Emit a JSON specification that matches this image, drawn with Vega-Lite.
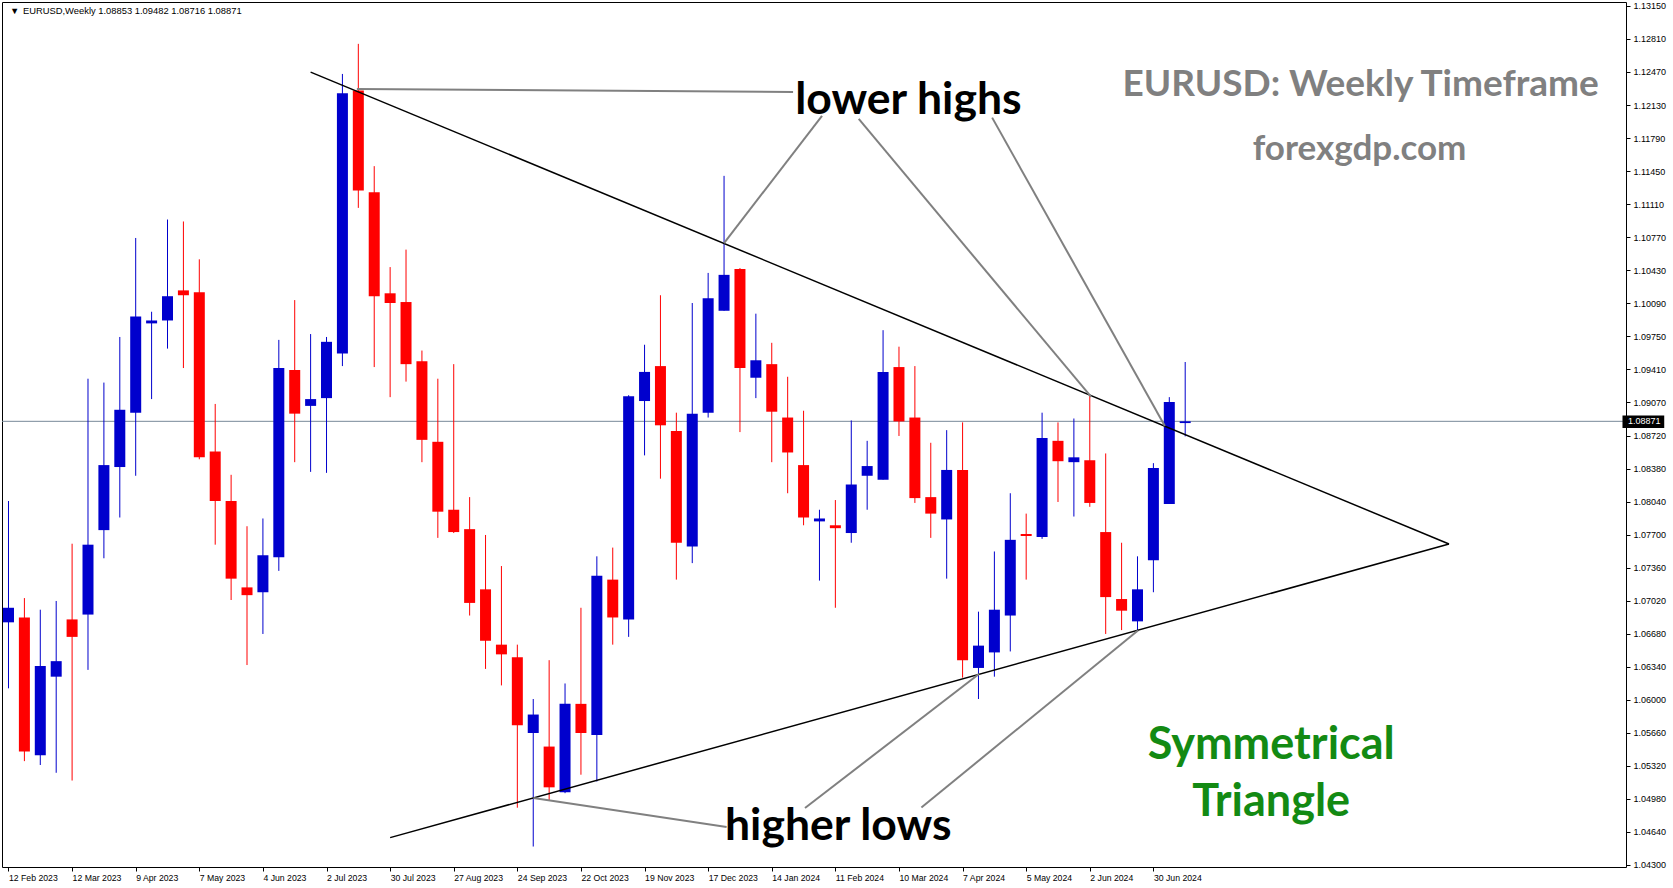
{
  "$schema": "https://vega.github.io/schema/vega-lite/v6.json",
  "width": 1624,
  "height": 865,
  "autosize": {"type": "none"},
  "padding": {"left": 2, "top": 2, "right": 47, "bottom": 21},
  "background": "white",
  "config": {
    "view": {"stroke": "black", "strokeWidth": 1},
    "axis": {
      "domain": false,
      "grid": false,
      "ticks": true,
      "tickColor": "black",
      "tickSize": 4,
      "labelColor": "black",
      "labelFont": "Liberation Sans",
      "labelFontSize": 9
    }
  },
  "resolve": {"axis": {"x": "independent", "y": "independent"}},
  "datasets": {
    "candles": [
      {"t": "2023-02-12", "o": 1.0680, "h": 1.0805, "l": 1.0612, "c": 1.0695},
      {"t": "2023-02-19", "o": 1.0685, "h": 1.0705, "l": 1.0537, "c": 1.0547},
      {"t": "2023-02-26", "o": 1.0543, "h": 1.0693, "l": 1.0533, "c": 1.0635},
      {"t": "2023-03-05", "o": 1.0624, "h": 1.0702, "l": 1.0525, "c": 1.0640},
      {"t": "2023-03-12", "o": 1.0683, "h": 1.0761, "l": 1.0517, "c": 1.0665},
      {"t": "2023-03-19", "o": 1.0688, "h": 1.0931, "l": 1.0631, "c": 1.0760},
      {"t": "2023-03-26", "o": 1.0775, "h": 1.0927, "l": 1.0746, "c": 1.0842},
      {"t": "2023-04-02", "o": 1.0840, "h": 1.0974, "l": 1.0788, "c": 1.0899},
      {"t": "2023-04-09", "o": 1.0896, "h": 1.1076, "l": 1.0831, "c": 1.0995},
      {"t": "2023-04-16", "o": 1.0988, "h": 1.1000, "l": 1.0910, "c": 1.0991},
      {"t": "2023-04-23", "o": 1.0991, "h": 1.1095, "l": 1.0962, "c": 1.1016},
      {"t": "2023-04-30", "o": 1.1022, "h": 1.1093, "l": 1.0942, "c": 1.1017},
      {"t": "2023-05-07", "o": 1.1020, "h": 1.1054, "l": 1.0848, "c": 1.0850},
      {"t": "2023-05-14", "o": 1.0856, "h": 1.0905, "l": 1.0760, "c": 1.0805},
      {"t": "2023-05-21", "o": 1.0805, "h": 1.0832, "l": 1.0703, "c": 1.0725},
      {"t": "2023-05-28", "o": 1.0716, "h": 1.0779, "l": 1.0636, "c": 1.0708},
      {"t": "2023-06-04", "o": 1.0711, "h": 1.0787, "l": 1.0668, "c": 1.0749},
      {"t": "2023-06-11", "o": 1.0747, "h": 1.0971, "l": 1.0733, "c": 1.0942},
      {"t": "2023-06-18", "o": 1.0940, "h": 1.1012, "l": 1.0845, "c": 1.0895},
      {"t": "2023-06-25", "o": 1.0903, "h": 1.0977, "l": 1.0835, "c": 1.0910},
      {"t": "2023-07-02", "o": 1.0911, "h": 1.0974, "l": 1.0834, "c": 1.0969},
      {"t": "2023-07-09", "o": 1.0957, "h": 1.1245, "l": 1.0944, "c": 1.1225},
      {"t": "2023-07-16", "o": 1.1228, "h": 1.1276, "l": 1.1107, "c": 1.1125},
      {"t": "2023-07-23", "o": 1.1123, "h": 1.1150, "l": 1.0943, "c": 1.1016},
      {"t": "2023-07-30", "o": 1.1019, "h": 1.1046, "l": 1.0912, "c": 1.1009},
      {"t": "2023-08-06", "o": 1.1010, "h": 1.1064, "l": 1.0928, "c": 1.0946},
      {"t": "2023-08-13", "o": 1.0949, "h": 1.0960, "l": 1.0845, "c": 1.0868},
      {"t": "2023-08-20", "o": 1.0866, "h": 1.0931, "l": 1.0767, "c": 1.0794},
      {"t": "2023-08-27", "o": 1.0796, "h": 1.0946, "l": 1.0772, "c": 1.0773},
      {"t": "2023-09-03", "o": 1.0776, "h": 1.0809, "l": 1.0687, "c": 1.0700},
      {"t": "2023-09-10", "o": 1.0714, "h": 1.0770, "l": 1.0632, "c": 1.0661},
      {"t": "2023-09-17", "o": 1.0657, "h": 1.0738, "l": 1.0615, "c": 1.0647},
      {"t": "2023-09-24", "o": 1.0644, "h": 1.0657, "l": 1.0489, "c": 1.0574},
      {"t": "2023-10-01", "o": 1.0566, "h": 1.0601, "l": 1.0449, "c": 1.0585},
      {"t": "2023-10-08", "o": 1.0552, "h": 1.0641, "l": 1.0496, "c": 1.0510},
      {"t": "2023-10-15", "o": 1.0505, "h": 1.0617, "l": 1.0504, "c": 1.0596},
      {"t": "2023-10-22", "o": 1.0596, "h": 1.0695, "l": 1.0523, "c": 1.0566},
      {"t": "2023-10-29", "o": 1.0564, "h": 1.0748, "l": 1.0516, "c": 1.0728},
      {"t": "2023-11-05", "o": 1.0724, "h": 1.0757, "l": 1.0657, "c": 1.0685},
      {"t": "2023-11-12", "o": 1.0683, "h": 1.0914, "l": 1.0665, "c": 1.0913},
      {"t": "2023-11-19", "o": 1.0908, "h": 1.0966, "l": 1.0852, "c": 1.0938},
      {"t": "2023-11-26", "o": 1.0944, "h": 1.1017, "l": 1.0828, "c": 1.0883},
      {"t": "2023-12-03", "o": 1.0877, "h": 1.0896, "l": 1.0724, "c": 1.0762},
      {"t": "2023-12-10", "o": 1.0758, "h": 1.1009, "l": 1.0741, "c": 1.0895},
      {"t": "2023-12-17", "o": 1.0896, "h": 1.1040, "l": 1.0891, "c": 1.1014},
      {"t": "2023-12-24", "o": 1.1001, "h": 1.1140, "l": 1.1001, "c": 1.1038},
      {"t": "2023-12-31", "o": 1.1044, "h": 1.1045, "l": 1.0876, "c": 1.0942},
      {"t": "2024-01-07", "o": 1.0932, "h": 1.0998, "l": 1.0911, "c": 1.0950},
      {"t": "2024-01-14", "o": 1.0946, "h": 1.0968, "l": 1.0845, "c": 1.0897},
      {"t": "2024-01-21", "o": 1.0891, "h": 1.0933, "l": 1.0813, "c": 1.0855},
      {"t": "2024-01-28", "o": 1.0842, "h": 1.0898, "l": 1.0780, "c": 1.0788},
      {"t": "2024-02-04", "o": 1.0784, "h": 1.0796, "l": 1.0723, "c": 1.0787},
      {"t": "2024-02-11", "o": 1.0780, "h": 1.0806, "l": 1.0695, "c": 1.0777},
      {"t": "2024-02-18", "o": 1.0772, "h": 1.0888, "l": 1.0762, "c": 1.0822},
      {"t": "2024-02-25", "o": 1.0831, "h": 1.0867, "l": 1.0796, "c": 1.0841},
      {"t": "2024-03-03", "o": 1.0827, "h": 1.0981, "l": 1.0827, "c": 1.0938},
      {"t": "2024-03-10", "o": 1.0943, "h": 1.0964, "l": 1.0872, "c": 1.0887},
      {"t": "2024-03-17", "o": 1.0891, "h": 1.0944, "l": 1.0803, "c": 1.0808},
      {"t": "2024-03-24", "o": 1.0809, "h": 1.0865, "l": 1.0767, "c": 1.0792},
      {"t": "2024-03-31", "o": 1.0786, "h": 1.0878, "l": 1.0725, "c": 1.0837},
      {"t": "2024-04-07", "o": 1.0837, "h": 1.0886, "l": 1.0623, "c": 1.0641},
      {"t": "2024-04-14", "o": 1.0633, "h": 1.0691, "l": 1.0601, "c": 1.0656},
      {"t": "2024-04-21", "o": 1.0649, "h": 1.0753, "l": 1.0624, "c": 1.0693},
      {"t": "2024-04-28", "o": 1.0687, "h": 1.0813, "l": 1.0650, "c": 1.0765},
      {"t": "2024-05-05", "o": 1.0771, "h": 1.0792, "l": 1.0724, "c": 1.0769},
      {"t": "2024-05-12", "o": 1.0768, "h": 1.0896, "l": 1.0766, "c": 1.0870},
      {"t": "2024-05-19", "o": 1.0867, "h": 1.0886, "l": 1.0804, "c": 1.0846},
      {"t": "2024-05-26", "o": 1.0845, "h": 1.0890, "l": 1.0789, "c": 1.0850},
      {"t": "2024-06-02", "o": 1.0847, "h": 1.0914, "l": 1.0799, "c": 1.0803},
      {"t": "2024-06-09", "o": 1.0773, "h": 1.0854, "l": 1.0668, "c": 1.0706},
      {"t": "2024-06-16", "o": 1.0704, "h": 1.0762, "l": 1.0672, "c": 1.0692},
      {"t": "2024-06-23", "o": 1.0681, "h": 1.0748, "l": 1.0671, "c": 1.0714},
      {"t": "2024-06-30", "o": 1.0744, "h": 1.0844, "l": 1.0711, "c": 1.0839},
      {"t": "2024-07-07", "o": 1.0802, "h": 1.0912, "l": 1.0802, "c": 1.0907},
      {"t": "2024-07-14", "o": 1.08853, "h": 1.09482, "l": 1.08716, "c": 1.08871}
    ],
    "trendlines": [
      {"id": "upper", "t": 1687651200000, "p": 1.12469},
      {"id": "upper", "t": 1730948832000, "p": 1.07607},
      {"id": "lower", "t": 1690675200000, "p": 1.04582},
      {"id": "lower", "t": 1730948832000, "p": 1.07607}
    ],
    "pointers": [
      {"id": "g1", "t": 1689411168000, "p": 1.12295},
      {"id": "g1", "t": 1706000832000, "p": 1.12264},
      {"id": "g2", "t": 1703376000000, "p": 1.10708},
      {"id": "g2", "t": 1707101568000, "p": 1.12017},
      {"id": "g3", "t": 1708498656000, "p": 1.11986},
      {"id": "g3", "t": 1717340832000, "p": 1.09122},
      {"id": "g4", "t": 1713572928000, "p": 1.12000},
      {"id": "g4", "t": 1720141056000, "p": 1.08823},
      {"id": "h1", "t": 1696124448000, "p": 1.04990},
      {"id": "h1", "t": 1703472768000, "p": 1.04691},
      {"id": "h2", "t": 1706454432000, "p": 1.04887},
      {"id": "h2", "t": 1713070944000, "p": 1.06268},
      {"id": "h3", "t": 1710881568000, "p": 1.04892},
      {"id": "h3", "t": 1719118944000, "p": 1.06716}
    ],
    "notes": [
      {"t": 1710385632000, "p": 1.120424, "label": "lower highs"},
      {"t": 1707718464000, "p": 1.045523, "label": "higher lows"}
    ],
    "pattern": [
      {"t": 1724187168000, "p": 1.053961, "label": "Symmetrical"},
      {"t": 1724187168000, "p": 1.048047, "label": "Triangle"}
    ],
    "heading": [
      {"t": 1727586144000, "p": 1.122227, "label": "EURUSD: Weekly Timeframe"}
    ],
    "site": [
      {"t": 1727548344000, "p": 1.115634, "label": "forexgdp.com"}
    ],
    "info": [
      {"t": 1676216700000, "p": 1.130727, "label": "▼"},
      {"t": 1676708100000, "p": 1.130727, "label": "EURUSD,Weekly  1.08853 1.09482 1.08716 1.08871"}
    ],
    "lastprice": [
      {"t": 1737547200000, "t2": 1739134800000, "p": 1.089309, "p2": 1.088022, "tl": 1737752832000, "pl": 1.08871, "label": "1.08871"}
    ]
  },
  "layer": [
    {
      "data": {"values": [{"p": 1.08871}]},
      "mark": {"type": "rule", "color": "#778899", "strokeWidth": 1},
      "encoding": {
        "y": {
          "field": "p", "type": "quantitative",
          "scale": {"domain": [1.042792, 1.131912], "nice": false, "zero": false},
          "axis": {
            "orient": "right",
            "title": null,
            "values": [1.043, 1.0464, 1.0498, 1.0532, 1.0566, 1.06, 1.0634, 1.0668, 1.0702, 1.0736, 1.077, 1.0804, 1.0838, 1.0872, 1.0907, 1.0941, 1.0975, 1.1009, 1.1043, 1.1077, 1.1111, 1.1145, 1.1179, 1.1213, 1.1247, 1.1281, 1.1315],
            "format": ".5f",
            "labelAlign": "left",
            "labelBaseline": "middle",
            "labelPadding": 3,
            "labelOverlap": false,
            "labelFlush": false,
            "labelBound": false
          }
        }
      }
    },
    {
      "data": {"name": "candles"},
      "mark": {"type": "rule", "strokeWidth": 1, "clip": true},
      "encoding": {
        "x": {
          "field": "t", "type": "temporal",
          "scale": {"type": "utc", "domain": [1676103300000, 1737490500000], "nice": false},
          "axis": {
            "orient": "bottom",
            "title": null,
            "values": [1676160000000, 1678579200000, 1680998400000, 1683417600000, 1685836800000, 1688256000000, 1690675200000, 1693094400000, 1695513600000, 1697932800000, 1700352000000, 1702771200000, 1705190400000, 1707609600000, 1710028800000, 1712448000000, 1714867200000, 1717286400000, 1719705600000],
            "labelExpr": "utcFormat(datum.value, '%-d %b %Y')",
            "labelFontSize": 8.7,
            "labelAlign": "left",
            "labelBaseline": "top",
            "labelOffset": 0,
            "labelPadding": 2,
            "labelOverlap": false,
            "labelFlush": false,
            "labelBound": false
          }
        },
        "y": {"field": "l", "type": "quantitative", "axis": null},
        "y2": {"field": "h"},
        "color": {"condition": {"test": "datum.c >= datum.o", "value": "#0000CD"}, "value": "#FF0000"}
      }
    },
    {
      "data": {"name": "candles"},
      "mark": {"type": "bar", "size": 11, "clip": true},
      "encoding": {
        "x": {"field": "t", "type": "temporal", "axis": null},
        "y": {"field": "o", "type": "quantitative", "axis": null},
        "y2": {"field": "c"},
        "color": {"condition": {"test": "datum.c >= datum.o", "value": "#0000CD"}, "value": "#FF0000"}
      }
    },
    {
      "data": {"name": "trendlines"},
      "mark": {"type": "line", "color": "black", "strokeWidth": 1.5, "clip": true},
      "encoding": {
        "x": {"field": "t", "type": "temporal", "axis": null},
        "y": {"field": "p", "type": "quantitative", "axis": null},
        "detail": {"field": "id"}
      }
    },
    {
      "data": {"name": "pointers"},
      "mark": {"type": "line", "color": "#808080", "strokeWidth": 2, "clip": true},
      "encoding": {
        "x": {"field": "t", "type": "temporal", "axis": null},
        "y": {"field": "p", "type": "quantitative", "axis": null},
        "detail": {"field": "id"}
      }
    },
    {
      "data": {"name": "notes"},
      "mark": {"type": "text", "font": "Lato", "fontWeight": "bold", "fontSize": 44.5, "color": "black", "align": "center", "baseline": "alphabetic"},
      "encoding": {
        "x": {"field": "t", "type": "temporal", "axis": null},
        "y": {"field": "p", "type": "quantitative", "axis": null},
        "text": {"field": "label"}
      }
    },
    {
      "data": {"name": "pattern"},
      "mark": {"type": "text", "font": "Lato", "fontWeight": "bold", "fontSize": 45, "color": "#138A13", "align": "center", "baseline": "alphabetic"},
      "encoding": {
        "x": {"field": "t", "type": "temporal", "axis": null},
        "y": {"field": "p", "type": "quantitative", "axis": null},
        "text": {"field": "label"}
      }
    },
    {
      "data": {"name": "heading"},
      "mark": {"type": "text", "font": "Lato", "fontWeight": "bold", "fontSize": 37, "color": "#808080", "align": "center", "baseline": "alphabetic"},
      "encoding": {
        "x": {"field": "t", "type": "temporal", "axis": null},
        "y": {"field": "p", "type": "quantitative", "axis": null},
        "text": {"field": "label"}
      }
    },
    {
      "data": {"name": "site"},
      "mark": {"type": "text", "font": "Lato", "fontWeight": "bold", "fontSize": 35, "color": "#808080", "align": "center", "baseline": "alphabetic"},
      "encoding": {
        "x": {"field": "t", "type": "temporal", "axis": null},
        "y": {"field": "p", "type": "quantitative", "axis": null},
        "text": {"field": "label"}
      }
    },
    {
      "data": {"name": "info"},
      "mark": {"type": "text", "font": "Liberation Sans", "fontSize": 9.4, "color": "black", "align": "left", "baseline": "alphabetic"},
      "encoding": {
        "x": {"field": "t", "type": "temporal", "axis": null},
        "y": {"field": "p", "type": "quantitative", "axis": null},
        "text": {"field": "label"}
      }
    },
    {
      "data": {"name": "lastprice"},
      "mark": {"type": "rect", "color": "black"},
      "encoding": {
        "x": {"field": "t", "type": "temporal", "axis": null},
        "x2": {"field": "t2"},
        "y": {"field": "p", "type": "quantitative", "axis": null},
        "y2": {"field": "p2"}
      }
    },
    {
      "data": {"name": "lastprice"},
      "mark": {"type": "text", "font": "Liberation Sans", "fontSize": 9, "color": "white", "align": "left", "baseline": "middle"},
      "encoding": {
        "x": {"field": "tl", "type": "temporal", "axis": null},
        "y": {"field": "pl", "type": "quantitative", "axis": null},
        "text": {"field": "label"}
      }
    }
  ]
}
